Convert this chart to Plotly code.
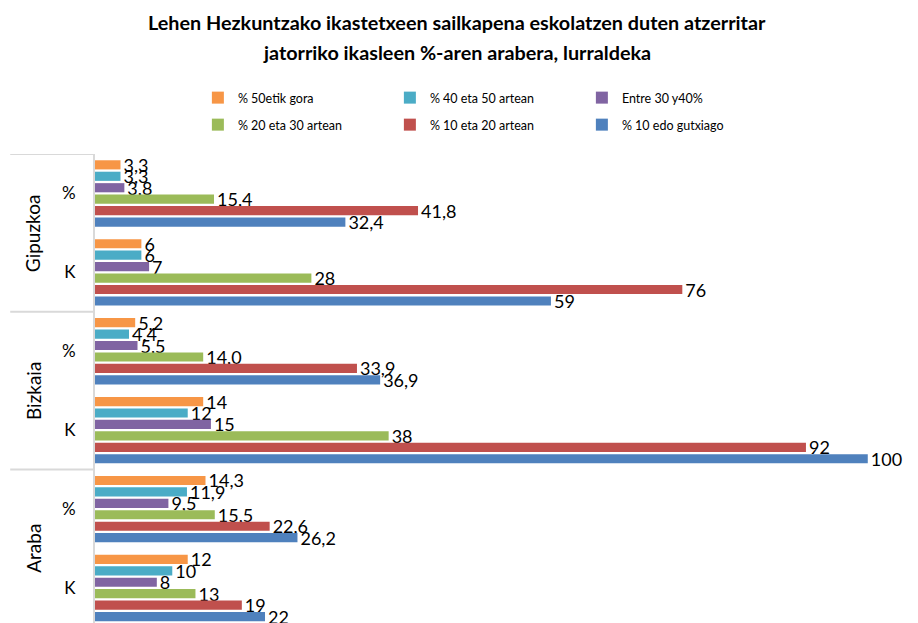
import plotly.graph_objects as go

provinces = ["Gipuzkoa", "Bizkaia", "Araba"]
measures = ["%", "K"]

series_names = [
    "% 50etik gora",
    "% 40 eta 50 artean",
    "Entre 30 y40%",
    "% 20 eta 30 artean",
    "% 10 eta 20 artean",
    "% 10 edo gutxiago",
]
series_colors = ["#F79646", "#4BACC6", "#8064A2", "#9BBB59", "#C0504D", "#4F81BD"]

# rows: Gipuzkoa %, Gipuzkoa K, Bizkaia %, Bizkaia K, Araba %, Araba K
v_50etik_gora = [3.3, 6, 5.2, 14, 14.3, 12]
v_40_50 = [3.3, 6, 4.4, 12, 11.9, 10]
v_30_40 = [3.8, 7, 5.5, 15, 9.5, 8]
v_20_30 = [15.4, 28, 14.0, 38, 15.5, 13]
v_10_20 = [41.8, 76, 33.9, 92, 22.6, 19]
v_10_gutxiago = [32.4, 59, 36.9, 100, 26.2, 22]
series_values = [v_50etik_gora, v_40_50, v_30_40, v_20_30, v_10_20, v_10_gutxiago]

row_keys = [f"{p} {m}" for p in provinces for m in measures]
row_labels = [m for p in provinces for m in measures]
row_measures = row_labels

def fmt(v, m):
    if m == "%":
        return f"{v:.1f}".replace(".", ",")
    return f"{v:.0f}"

fig = go.Figure()
for idx, (name, color, vals) in enumerate(zip(series_names, series_colors, series_values)):
    fig.add_trace(go.Bar(
        name=name,
        y=row_keys,
        x=vals,
        orientation="h",
        marker=dict(color=color, line=dict(width=0)),
        text=[fmt(v, m) for v, m in zip(vals, row_measures)],
        textposition="outside",
        textfont=dict(family="Lato", size=18, color="#000000"),
        cliponaxis=False,
        constraintext="none",
        legend="legend" if idx < 3 else "legend2",
    ))

shapes = []
for i in range(len(provinces)):
    shapes.append(dict(type="line", xref="paper", yref="y",
                       x0=-0.103, x1=0, y0=2 * i - 0.5, y1=2 * i - 0.5,
                       line=dict(color="#D9D9D9", width=2)))

annotations = []
for i, p in enumerate(provinces):
    annotations.append(dict(text=p, xref="paper", yref="y", x=-0.075, y=2 * i + 0.5,
                            textangle=-90, showarrow=False, xanchor="center", yanchor="middle",
                            font=dict(family="Lato", size=19, color="#000000")))

title_font = dict(family="Lato", size=19.8, color="#000000")
annotations.append(dict(text="<b>Lehen Hezkuntzako ikastetxeen sailkapena eskolatzen duten atzerritar</b>",
                        xref="paper", yref="paper", x=0.44, y=1.2814, showarrow=False,
                        xanchor="center", yanchor="middle", font=title_font))
annotations.append(dict(text="<b>jatorriko ikasleen %-aren arabera, lurraldeka</b>",
                        xref="paper", yref="paper", x=0.44, y=1.2175, showarrow=False,
                        xanchor="center", yanchor="middle", font=title_font))

legend_common = dict(orientation="h", xanchor="left", yanchor="middle",
                     entrywidth=147, entrywidthmode="pixels", traceorder="normal",
                     font=dict(family="Lato", size=12.5, color="#000000"),
                     itemwidth=30, bgcolor="rgba(0,0,0,0)")

fig.update_layout(
    width=918, height=623,
    margin=dict(l=95, r=0, t=154, b=0, autoexpand=False),
    barmode="group",
    bargap=0.13,
    bargroupgap=0.2,
    plot_bgcolor="white",
    paper_bgcolor="white",
    font=dict(family="Lato", color="#000000"),
    showlegend=True,
    legend=dict(x=0.125, y=1.1194, **legend_common),
    legend2=dict(x=0.125, y=1.0618, **legend_common),
    xaxis=dict(range=[0, 106.5], visible=False, showgrid=False, zeroline=False),
    yaxis=dict(type="category", categoryorder="array", categoryarray=row_keys,
               tickvals=row_keys, ticktext=row_labels, automargin=False,
               range=[5.444, -0.5], showline=True, linecolor="#D9D9D9", linewidth=2,
               ticks="", ticklabelstandoff=14, showgrid=False,
               tickfont=dict(family="Lato", size=17, color="#000000")),
    shapes=shapes,
    annotations=annotations,
)

fig.write_html("out.html", config={"displayModeBar": False},
               post_script="document.body.style.margin='0';document.body.style.overflow='hidden';")
